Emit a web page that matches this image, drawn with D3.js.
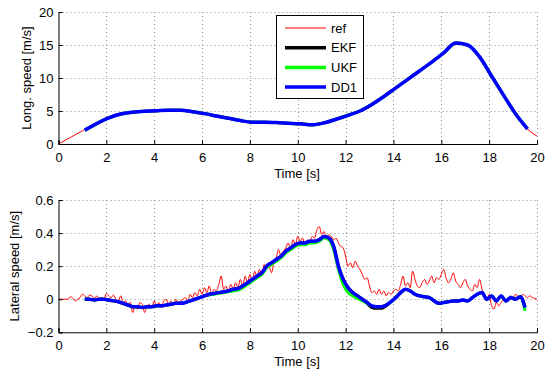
<!DOCTYPE html>
<html><head><meta charset="utf-8">
<script src="https://cdn.jsdelivr.net/npm/d3@7"></script>
<style>body{margin:0;background:#fff}svg{display:block}text{font-family:Arial,"Liberation Sans",sans-serif}</style>
</head><body>
<svg id="c" width="550" height="373"></svg>
<script>
// ---- data ----
const xTicks = [0,2,4,6,8,10,12,14,16,18,20];
const yTicksLong = [0,5,10,15,20];
const yTicksLat = [-0.2,0,0.2,0.4,0.6];
const seriesNames = ["ref","EKF","UKF","DD1"];
const seriesColors = ["#ff0000","#000000","#00ff00","#0000ff"];

// longitudinal speed, reference: start 0 s, step 0.5 s
const refLongStart = 0, refLongStep = 0.5;
const refLong = [0,1.0,2.0,3.0,3.9,4.5,4.8,4.95,5.05,5.1,5.1,4.95,4.65,4.3,3.95,3.6,3.35,3.35,3.3,3.2,3.1,2.95,3.2,3.7,4.3,4.9,5.9,7.0,8.3,9.6,10.9,12.1,13.5,15.0,15.2,13.8,10.6,7.8,5.0,2.6,1.2];
// longitudinal speed, filters: start 1.1 s, step 0.5 s
const filtLongStart = 1.1, filtLongStep = 0.5;
const ekfLong = [2.1,3.1,3.95,4.55,4.8,4.95,5.05,5.1,5.1,4.9,4.6,4.25,3.9,3.55,3.3,3.3,3.25,3.15,3.05,2.9,3.2,3.75,4.35,5.0,6.0,7.2,8.5,9.8,11.1,12.4,13.8,15.3,15.0,13.2,10.3,7.4,4.6,2.3];
const ukfLong = [2.1,3.1,3.95,4.55,4.8,4.95,5.05,5.1,5.1,4.9,4.6,4.25,3.9,3.55,3.3,3.3,3.25,3.15,3.05,2.9,3.2,3.75,4.35,5.0,6.0,7.2,8.5,9.8,11.1,12.4,13.8,15.3,15.0,13.2,10.3,7.4,4.6,2.3];
const dd1Long = [2.1,3.1,3.95,4.55,4.8,4.95,5.05,5.1,5.1,4.9,4.6,4.25,3.9,3.55,3.3,3.3,3.25,3.15,3.05,2.9,3.2,3.75,4.35,5.0,6.0,7.2,8.5,9.8,11.1,12.4,13.8,15.3,15.0,13.2,10.3,7.4,4.6,2.3];

// lateral speed, reference: start 0 s, step 0.1 s
const refLatStart = 0, refLatStep = 0.1;
const refLat = [0,0,0,0,0,0.015,0.005,-0.01,0.0,0.01,
0.03,0.02,0.01,0.025,0.02,0.005,0.02,-0.005,0.01,0.0,
0.035,0.02,0.01,0.025,0.0,-0.01,0.02,-0.02,-0.01,-0.03,
-0.02,-0.08,-0.04,-0.06,-0.02,-0.03,-0.08,-0.04,-0.03,-0.05,
-0.01,-0.04,-0.02,-0.05,-0.01,0.0,-0.03,-0.01,-0.04,0.0,
-0.02,-0.01,0.0,0.01,-0.01,0.03,0.01,0.04,0.02,0.06,
0.03,0.07,0.04,0.08,0.03,0.06,0.05,0.09,0.14,0.06,
0.08,0.05,0.09,0.06,0.1,0.07,0.12,0.08,0.14,0.1,
0.15,0.11,0.17,0.13,0.18,0.15,0.21,0.18,0.2,0.16,
0.22,0.25,0.3,0.26,0.29,0.31,0.34,0.3,0.36,0.33,
0.38,0.35,0.37,0.33,0.36,0.34,0.38,0.37,0.42,0.44,
0.39,0.41,0.37,0.39,0.38,0.36,0.37,0.34,0.32,0.31,
0.26,0.2,0.22,0.19,0.23,0.2,0.18,0.15,0.12,0.13,
0.08,0.04,0.05,0.03,0.06,0.03,0.05,0.02,0.04,0.03,
0.05,0.06,0.05,0.09,0.14,0.08,0.1,0.07,0.17,0.12,
0.08,0.07,0.1,0.12,0.09,0.11,0.14,0.1,0.13,0.12,
0.15,0.18,0.13,0.1,0.12,0.16,0.11,0.09,0.07,0.1,
0.12,0.08,0.06,0.05,0.09,0.07,0.12,0.06,0.02,-0.01,
0.03,-0.04,-0.06,-0.02,-0.04,-0.02,0.0,-0.01,0.01,0.02,
0.0,0.03,0.02,0.01,0.03,0.02,0.01,0.02,0.01,0.005,
0.0];
// lateral speed, filters: start 1.1 s, step 0.2 s
const filtLatStart = 1.1, filtLatStep = 0.2;
const ekfLat = [0.0,0.0,-0.005,0.0,0.0,-0.005,-0.01,-0.015,-0.025,-0.035,
-0.045,-0.045,-0.05,-0.045,-0.045,-0.04,-0.04,-0.035,-0.03,-0.025,
-0.025,-0.02,-0.01,0.0,0.01,0.02,0.03,0.035,0.04,0.045,
0.05,0.06,0.065,0.08,0.1,0.12,0.14,0.16,0.2,0.22,
0.24,0.26,0.29,0.31,0.33,0.34,0.34,0.35,0.35,0.36,
0.38,0.37,0.32,0.2,0.12,0.07,0.04,0.02,0.0,-0.025,
-0.05,-0.055,-0.055,-0.04,-0.015,0.01,0.04,0.06,0.05,0.03,
0.02,0.015,0.01,-0.01,-0.025,-0.02,-0.015,-0.01,-0.01,-0.005,
-0.01,0.01,0.03,0.04,0.0,0.02,-0.01,0.02,-0.01,0.01,
0.0,0.015,-0.05];
const ukfLat = [0.0,0.0,-0.005,0.0,0.0,-0.005,-0.01,-0.015,-0.025,-0.035,
-0.045,-0.045,-0.05,-0.045,-0.045,-0.04,-0.04,-0.035,-0.03,-0.025,
-0.025,-0.02,-0.01,0.0,0.01,0.02,0.025,0.03,0.035,0.04,
0.045,0.05,0.055,0.07,0.09,0.11,0.13,0.15,0.19,0.21,
0.23,0.25,0.28,0.3,0.32,0.33,0.33,0.34,0.34,0.35,
0.37,0.36,0.3,0.18,0.09,0.04,0.02,0.005,-0.01,-0.025,
-0.04,-0.045,-0.045,-0.035,-0.015,0.01,0.04,0.06,0.05,0.03,
0.02,0.015,0.01,-0.01,-0.025,-0.02,-0.015,-0.01,-0.01,-0.005,
-0.01,0.01,0.03,0.04,0.0,0.02,-0.01,0.02,-0.01,0.01,
0.0,0.015,-0.07];
const dd1Lat = [0.0,0.0,-0.005,0.0,0.0,-0.005,-0.01,-0.015,-0.025,-0.035,
-0.045,-0.045,-0.05,-0.045,-0.045,-0.04,-0.04,-0.035,-0.03,-0.025,
-0.025,-0.02,-0.01,0.0,0.01,0.02,0.03,0.035,0.04,0.045,
0.05,0.06,0.065,0.08,0.1,0.12,0.14,0.16,0.2,0.22,
0.24,0.26,0.29,0.31,0.33,0.34,0.34,0.35,0.35,0.36,
0.38,0.37,0.32,0.2,0.12,0.07,0.04,0.02,0.0,-0.02,
-0.04,-0.045,-0.045,-0.035,-0.015,0.01,0.04,0.06,0.05,0.03,
0.02,0.015,0.01,-0.01,-0.025,-0.02,-0.015,-0.01,-0.01,-0.005,
-0.01,0.01,0.03,0.04,0.0,0.02,-0.01,0.02,-0.01,0.01,
0.0,0.015,-0.05];

// ---- drawing ----
const svg = d3.select("#c");
const X0 = 58.5, X1 = 537;
const x = d3.scaleLinear().domain([0,20]).range([X0,X1]);

function toPts(arr, start, step){ return arr.map((v,i)=>[start+i*step, v]); }

function panel(yTop, yBot, domain, ticks, fmt, ylabel, ylabelX, series){
  const y = d3.scaleLinear().domain(domain).range([yBot,yTop]);
  const g = svg.append("g");
  const grid = g.append("g").attr("stroke","#8a8a8a").attr("stroke-width",1).attr("stroke-dasharray","1,3");
  xTicks.filter(t=>t>0).forEach(t=>grid.append("line").attr("x1",Math.round(x(t))+0.5).attr("x2",Math.round(x(t))+0.5).attr("y1",yTop).attr("y2",yBot));
  ticks.filter(t=>t!==domain[0]).forEach(t=>grid.append("line").attr("y1",Math.round(y(t))+0.5).attr("y2",Math.round(y(t))+0.5).attr("x1",X0).attr("x2",X1));
  const id = "clip"+Math.round(yTop);
  svg.append("clipPath").attr("id",id).append("rect").attr("x",X0).attr("y",yTop).attr("width",X1-X0).attr("height",yBot-yTop);
  const lines = g.append("g").attr("clip-path",`url(#${id})`);
  const line = d3.line().x(d=>x(d[0])).y(d=>y(d[1])).curve(d3.curveMonotoneX);
  series.forEach(s=>{
    lines.append("path").attr("d",line(s.pts)).attr("fill","none").attr("stroke",s.color).attr("stroke-width",s.w).attr("stroke-linejoin","round");
  });
  const xa = g.append("g").attr("transform",`translate(0,${yBot})`).call(d3.axisBottom(x).tickValues(xTicks).tickSize(-4).tickPadding(8.5).tickFormat(d3.format("d")));
  const ya = g.append("g").attr("transform",`translate(${X0},0)`).call(d3.axisLeft(y).tickValues(ticks).tickSize(-4).tickPadding(5).tickFormat(fmt));
  [xa,ya].forEach(a=>{a.select(".domain").attr("stroke","#000");a.selectAll("line").attr("stroke","#000");a.selectAll("text").attr("font-size","13px").attr("fill","#000").attr("font-family","Arial,'Liberation Sans',sans-serif");});
  xa.selectAll("text").attr("dy","0.71em");
  g.append("text").attr("x",297).attr("y",yBot+33.5).attr("text-anchor","middle").attr("font-size","13px").text("Time [s]");
  g.append("text").attr("transform",`translate(${ylabelX},${(yTop+yBot)/2}) rotate(-90)`).attr("text-anchor","middle").attr("font-size","13px").text(ylabel);
  return g;
}

panel(12, 144, [0,20], yTicksLong, d3.format("d"), "Long. speed [m/s]", 31, [
  {pts: toPts(refLong, refLongStart, refLongStep), color: seriesColors[0], w: 1},
  {pts: toPts(ekfLong, filtLongStart, filtLongStep), color: seriesColors[1], w: 3},
  {pts: toPts(ukfLong, filtLongStart, filtLongStep), color: seriesColors[2], w: 3},
  {pts: toPts(dd1Long, filtLongStart, filtLongStep), color: seriesColors[3], w: 3.5}
]);
panel(200, 332.3, [-0.2,0.6], yTicksLat, d => d===0 ? "0" : d3.format(".1f")(d), "Lateral speed [m/s]", 19, [
  {pts: toPts(refLat, refLatStart, refLatStep), color: seriesColors[0], w: 1},
  {pts: toPts(ekfLat, filtLatStart, filtLatStep), color: seriesColors[1], w: 3},
  {pts: toPts(ukfLat, filtLatStart, filtLatStep), color: seriesColors[2], w: 3},
  {pts: toPts(dd1Lat, filtLatStart, filtLatStep), color: seriesColors[3], w: 3.5}
]);

const lg = svg.append("g");
lg.append("rect").attr("x",276.5).attr("y",15.5).attr("width",87).attr("height",83).attr("fill","#fff").attr("stroke","#000");
seriesNames.forEach((n,i)=>{
  const yy = 28 + i*19.7;
  lg.append("line").attr("x1",285).attr("x2",326).attr("y1",yy).attr("y2",yy).attr("stroke",seriesColors[i]).attr("stroke-width", i===0?1:3.5);
  lg.append("text").attr("x",331).attr("y",yy+4.5).attr("font-size","13px").text(n);
});
</script>
</body></html>
